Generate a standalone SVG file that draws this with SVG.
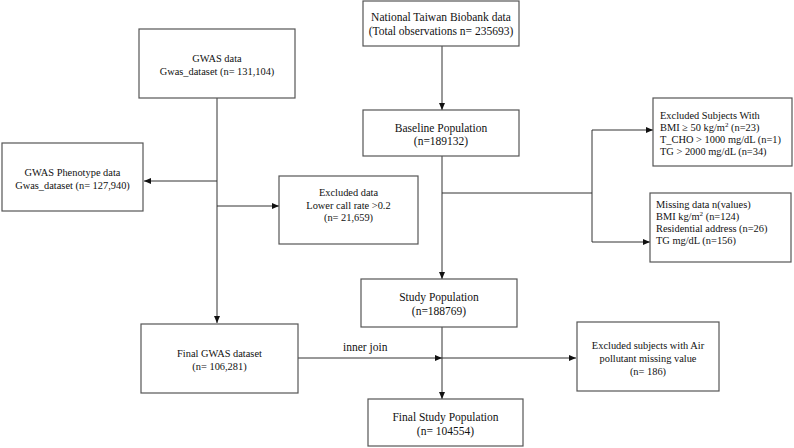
<svg xmlns="http://www.w3.org/2000/svg" width="794" height="448" viewBox="0 0 794 448">
<style>
rect.box{fill:#fff;stroke:#555;stroke-width:1.2}
text{font-family:"Liberation Serif","Times New Roman",serif;font-size:10.4px;fill:#111}
text.big{font-size:11.5px}
.c{text-anchor:middle}
.con{fill:none;stroke:#333;stroke-width:1}
</style>
<defs>
<marker id="ah" markerWidth="8" markerHeight="8" refX="7" refY="4" orient="auto" markerUnits="userSpaceOnUse">
<path d="M0,1 L7,4 L0,7 Z" fill="#111"/>
</marker>
</defs>
<rect width="794" height="448" fill="#fff"/>
<g id="connectors">
<path class="con" d="M217,98 V323" marker-end="url(#ah)"/>
<path class="con" d="M217,181 H144" marker-end="url(#ah)"/>
<path class="con" d="M217,206 H279" marker-end="url(#ah)"/>
<path class="con" d="M442,46 V110" marker-end="url(#ah)"/>
<path class="con" d="M442,156 V279" marker-end="url(#ah)"/>
<path class="con" d="M442,193 H592"/>
<path class="con" d="M592,130 V242"/>
<path class="con" d="M592,130 H653" marker-end="url(#ah)"/>
<path class="con" d="M592,242 H650" marker-end="url(#ah)"/>
<path class="con" d="M442,327 V399" marker-end="url(#ah)"/>
<path class="con" d="M298,358 H442" marker-end="url(#ah)"/>
<path class="con" d="M442,358 H576" marker-end="url(#ah)"/>
<text class="big" x="343" y="351">inner join</text>
</g>
<g id="gwas-data">
<rect class="box" x="139" y="29" width="156" height="69"/>
<text class="c" x="217" y="62">GWAS data</text>
<text class="c" x="217" y="74.5">Gwas_dataset (n= 131,104)</text>
</g>
<g id="gwas-phenotype">
<rect class="box" x="2" y="143" width="141" height="68"/>
<text class="c" x="72.5" y="176">GWAS Phenotype data</text>
<text class="c" x="72.5" y="188.5">Gwas_dataset (n= 127,940)</text>
</g>
<g id="excluded-data">
<rect class="box" x="279" y="176" width="139" height="68"/>
<text class="c" x="348.5" y="196">Excluded data</text>
<text class="c" x="348.5" y="208.5">Lower call rate &gt;0.2</text>
<text class="c" x="348.5" y="221">(n= 21,659)</text>
</g>
<g id="final-gwas">
<rect class="box" x="141" y="324" width="157" height="69"/>
<text class="c" x="219.5" y="357">Final GWAS dataset</text>
<text class="c" x="219.5" y="370">(n= 106,281)</text>
</g>
<g id="biobank">
<rect class="box" x="363" y="1" width="156" height="45"/>
<text class="c big" x="441" y="21">National Taiwan Biobank data</text>
<text class="c big" x="441" y="35">(Total observations n= 235693)</text>
</g>
<g id="baseline">
<rect class="box" x="363" y="110" width="156" height="46"/>
<text class="c big" x="441" y="132">Baseline Population</text>
<text class="c big" x="441" y="145">(n=189132)</text>
</g>
<g id="excluded-subjects">
<rect class="box" x="653" y="98" width="139" height="68"/>
<text x="660" y="119">Excluded Subjects With</text>
<text x="660" y="131">BMI ≥ 50 kg/m<tspan font-size="7" dy="-4">2</tspan><tspan dy="4"> (n=23)</tspan></text>
<text x="660" y="143">T_CHO &gt; 1000 mg/dL (n=1)</text>
<text x="660" y="155">TG &gt; 2000 mg/dL (n=34)</text>
</g>
<g id="missing-data">
<rect class="box" x="650" y="193" width="141" height="69"/>
<text x="656" y="208">Missing data n(values)</text>
<text x="656" y="220">BMI kg/m<tspan font-size="7" dy="-4">2</tspan><tspan dy="4"> (n=124)</tspan></text>
<text x="656" y="232">Residential address (n=26)</text>
<text x="656" y="244">TG mg/dL (n=156)</text>
</g>
<g id="study-population">
<rect class="box" x="361" y="279" width="156" height="48"/>
<text class="c big" x="439" y="301">Study Population</text>
<text class="c big" x="439" y="315">(n=188769)</text>
</g>
<g id="excluded-air">
<rect class="box" x="577" y="322" width="142" height="69"/>
<text class="c" x="648" y="349">Excluded subjects with Air</text>
<text class="c" x="648" y="362">pollutant missing value</text>
<text class="c" x="648" y="375">(n= 186)</text>
</g>
<g id="final-study">
<rect class="box" x="368" y="399" width="155" height="47"/>
<text class="c big" x="445.5" y="421">Final Study Population</text>
<text class="c big" x="445.5" y="435">(n= 104554)</text>
</g>
</svg>
